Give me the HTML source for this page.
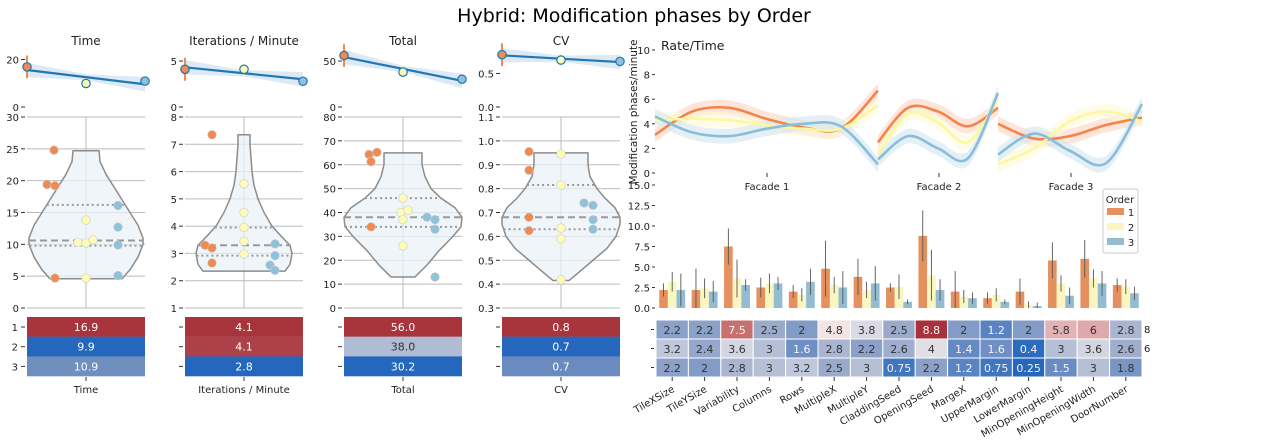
<!DOCTYPE html>
<html><head><meta charset="utf-8"><style>
html,body{margin:0;padding:0;background:#fff}
svg{display:block;font-family:"DejaVu Sans","Liberation Sans",sans-serif}
</style></head><body>
<svg id="c" width="1269" height="445" viewBox="0 0 1269 445">
<text x="634" y="22" text-anchor="middle" font-size="19">Hybrid: Modification phases by Order</text>
</svg>
<script>
// ---------- data ----------
const panelNames = ["Time","Iterations / Minute","Total","CV"];
const panelMeans1 = [16.9, 4.1, 56.0, 0.78];
const panelMeans2 = [9.9, 4.1, 38.0, 0.70];
const panelMeans3 = [10.9, 2.8, 30.2, 0.68];
const tableLabels = [["16.9","9.9","10.9"],["4.1","4.1","2.8"],["56.0","38.0","30.2"],["0.8","0.7","0.7"]];
const timePts1 = [24.8,19.4,19.2,4.7], timePts2 = [13.8,10.3,10.2,10.7,4.7], timePts3 = [16.1,12.7,9.9,5.1];
const iterPts1 = [7.35,3.3,3.2,2.65], iterPts2 = [5.55,4.5,3.95,3.45,2.98], iterPts3 = [3.35,2.92,2.57,2.38];
const totalPts1 = [64.3,65.2,61.3,34], totalPts2 = [46,40,37,41,26], totalPts3 = [38,37,33,13];
const cvPts1 = [0.955,0.877,0.68,0.624], cvPts2 = [0.945,0.815,0.635,0.59,0.418], cvPts3 = [0.74,0.73,0.67,0.63];
const quartiles = [[16.2,10.6,9.8],[3.95,3.3,2.92],[46,38,34],[0.815,0.68,0.63]];
const categories = ["TileXSize","TileYSize","Variability","Columns","Rows","MultipleX","MultipleY","CladdingSeed","OpeningSeed","MargeX","UpperMargin","LowerMargin","MinOpeningHeight","MinOpeningWidth","DoorNumber"];
const order1 = [2.2,2.2,7.5,2.5,2,4.8,3.8,2.5,8.8,2,1.2,2,5.8,6,2.8];
const order2 = [3.2,2.4,3.6,3,1.6,2.8,2.2,2.6,4,1.4,1.6,0.4,3,3.6,2.6];
const order3 = [2.2,2,2.8,3,3.2,2.5,3,0.75,2.2,1.2,0.75,0.25,1.5,3,1.8];
const err1 = [0.8,2.6,2.2,1.2,0.8,3.4,2.2,0.5,3.1,2.5,0.7,1.6,2.2,2.3,0.8];
const err2 = [1.2,1.2,2.3,1.2,0.8,1.0,1.0,1.5,3.1,0.8,0.8,0.4,1.0,1.1,0.9];
const err3 = [2.0,1.3,0.7,0.8,1.6,2.0,2.1,0.3,1.3,0.7,0.3,0.4,1.0,1.5,0.8];
const cellLabels1 = ["2.2","2.2","7.5","2.5","2","4.8","3.8","2.5","8.8","2","1.2","2","5.8","6","2.8"];
const cellLabels2 = ["3.2","2.4","3.6","3","1.6","2.8","2.2","2.6","4","1.4","1.6","0.4","3","3.6","2.6"];
const cellLabels3 = ["2.2","2","2.8","3","3.2","2.5","3","0.75","2.2","1.2","0.75","0.25","1.5","3","1.8"];
const facades = ["Facade 1","Facade 2","Facade 3"];
const rateF1o1 = [3.1,5.0,5.3,4.4,3.7,3.6,6.7], rateF1o2 = [4.3,4.4,4.3,3.9,3.6,3.6,5.5], rateF1o3 = [4.6,3.3,3.0,3.6,4.0,3.8,0.7];
const rateF2o1 = [2.5,5.3,5.0,3.8,5.3], rateF2o2 = [1.5,4.8,4.1,2.5,6.0], rateF2o3 = [1.1,3.0,2.0,1.2,6.5];
const rateF3o1 = [4.0,2.8,3.0,3.9,4.5], rateF3o2 = [0.7,2.0,4.2,5.0,4.2], rateF3o3 = [1.5,3.2,1.8,0.8,5.6];
const barTicks = ["0.0","2.5","5.0","7.5","10.0","12.5","15.0"];
const rateTicks = ["0","2","4","6","8","10"];

// ---------- helpers ----------
const svg = document.getElementById('c');
const NS = "http://www.w3.org/2000/svg";
function mk(tag, attrs, parent){const e=document.createElementNS(NS,tag);for(const k in attrs)e.setAttribute(k,attrs[k]);(parent||svg).appendChild(e);return e;}
function txt(x,y,s,size,anchor,fill,parent){const t=mk('text',{x:x,y:y,'font-size':size||10,'text-anchor':anchor||'start',fill:fill||'#222'},parent);t.textContent=s;return t;}
const C1="#f08a50",C2="#fdfbb6",C3="#8fc1da";
const B1="#e5915f",B2="#faf6c0",B3="#93bcd2";
function hex(h){return [parseInt(h.slice(1,3),16),parseInt(h.slice(3,5),16),parseInt(h.slice(5,7),16)];}
const stops=[[0.25,"#2467bd"],[1.5,"#6b8cc3"],[2.5,"#9aaacb"],[3.5,"#cfd3e0"],[4.6,"#f7eeee"],[6,"#dfa8aa"],[7.5,"#c7706f"],[8.8,"#a8323b"]];
function cmap(v){if(v<=stops[0][0])return stops[0][1];for(let i=1;i<stops.length;i++){if(v<=stops[i][0]){const t=(v-stops[i-1][0])/(stops[i][0]-stops[i-1][0]);const a=hex(stops[i-1][1]),b=hex(stops[i][1]);return `rgb(${a.map((x,j)=>Math.round(x+(b[j]-x)*t)).join(',')})`;}}return stops[stops.length-1][1];}

// ---------- left panels ----------
const px0=[27,185,344,502], pw=118;
const vMin=[0,1,0,0.3], vMax=[30,8,80,1.1], vTicks=[[0,5,10,15,20,25,30],[1,2,3,4,5,6,7,8],[0,10,20,30,40,50,60,70,80],[0.3,0.4,0.5,0.6,0.7,0.8,0.9,1.0,1.1]];
const topMax=[24,6.2,62,0.85], topTicks=[[0,20],[0,5],[0,50],[0,0.5]];
const ptsAll=[[timePts1,timePts2,timePts3],[iterPts1,iterPts2,iterPts3],[totalPts1,totalPts2,totalPts3],[cvPts1,cvPts2,cvPts3]];
const ptsDx=[[[-32,-39,-31,-31],[0,-8,0,7,0],[32,32,32,32]],[[-32,-39,-32,-32],[0,0,0,0,0],[31,31,26,31]],[[-34,-26,-32,-32],[0,-2,0,5,0],[24,32,32,32]],[[-32,-32,-32,-32],[0,0,0,0,0],[23,32,32,32]]];
const violins=[
 {v:[4.6,6,8,10,11,13,15,17,19,21,23,24.7],w:[36,44,52,57,57,52,44,36,28,20,14,13]},
 {v:[2.35,2.6,3,3.3,3.6,4,4.5,5,5.5,6,6.5,7,7.35],w:[41,46,48,46,38,28,20,14,10,8,7,6,6]},
 {v:[13,18,24,30,34,38,42,46,50,55,60,65],w:[12,24,36,50,58,59,52,38,28,22,19,19]},
 {v:[0.415,0.45,0.5,0.55,0.6,0.65,0.68,0.72,0.76,0.8,0.85,0.9,0.95],w:[8,18,32,46,55,59,59,54,44,36,29,27,27]}];
const tblColors=[["#a8343c","#2467bd","#6f8fbf"],["#a8343c","#ad4149","#2467bd"],["#a8343c","#b0bcd4","#2467bd"],["#a8343c","#2467bd","#6a8bc0"]];
const means=[panelMeans1,panelMeans2,panelMeans3];
for(let p=0;p<4;p++){
  const g=mk('g',{}); 
  
  const x0=px0[p], cx=x0+pw/2;
  const tt=txt(cx,45,panelNames[p],12,'middle','#222',g);
   
  const ty=v=>107-v/topMax[p]*(107-50);
  topTicks[p].forEach(t=>{const yy=ty(t);mk('line',{x1:x0-6,x2:x0-2,y1:yy,y2:yy,stroke:'#333'},g);txt(x0-8,yy+4,(p==3?t.toFixed(1):String(t)),10,'end','#222',g);});
  const xs=[x0,cx,x0+pw], m=[means[0][p],means[1][p],means[2][p]];
  const slope=(m[2]-m[0])/2, mm=(m[0]+m[1]+m[2])/3;
  const fit=i=>mm+slope*(i-1);
  const bw=(topMax[p]*0.09);
  let band=`M${xs[0]},${ty(fit(0)+bw*1.4)} L${xs[1]},${ty(fit(1)+bw*0.6)} L${xs[2]},${ty(fit(2)+bw*1.4)} L${xs[2]},${ty(fit(2)-bw*1.4)} L${xs[1]},${ty(fit(1)-bw*0.6)} L${xs[0]},${ty(fit(0)-bw*1.4)}Z`;
  const bd=mk('path',{d:band,fill:'#c6dbef',opacity:0.6},g);
   
  mk('line',{x1:xs[0],y1:ty(m[0]-topMax[p]*0.2),x2:xs[0],y2:ty(m[0]+topMax[p]*0.2),stroke:C1,'stroke-width':2},g);
  mk('line',{x1:xs[1],y1:ty(m[1]-topMax[p]*0.1),x2:xs[1],y2:ty(m[1]+topMax[p]*0.1),stroke:C2,'stroke-width':2},g);
  const rl=mk('line',{x1:xs[0],y1:ty(fit(0)),x2:xs[2],y2:ty(fit(2)),stroke:'#1f77b4','stroke-width':2.2},g);
   
  [C1,C2,C3].forEach((c,i)=>{const d=mk('circle',{cx:xs[i],cy:ty(m[i]),r:4.2,fill:c,stroke:'#1f77b4','stroke-width':1.2},g);
     });
  const vy=v=>308-(v-vMin[p])/(vMax[p]-vMin[p])*(308-117);
  vTicks[p].forEach(t=>{const yy=vy(t);mk('line',{x1:x0,x2:x0+pw,y1:yy,y2:yy,stroke:'#bbb','stroke-width':1},g);
    mk('line',{x1:x0-6,x2:x0-2,y1:yy,y2:yy,stroke:'#333'},g);
    txt(x0-8,yy+4,(p==3?t.toFixed(1):String(t)),10,'end','#222',g);});
  mk('line',{x1:cx,x2:cx,y1:117,y2:308,stroke:'#bbb'},g);
  const V=violins[p]; let d='';
  V.v.forEach((v,i)=>{d+=(i?'L':'M')+(cx+V.w[i])+','+vy(v)+' ';});
  for(let i=V.v.length-1;i>=0;i--)d+='L'+(cx-V.w[i])+','+vy(V.v[i])+' ';
  const vp=mk('path',{d:d+'Z',fill:'#eaf2f7','fill-opacity':0.75,stroke:'#8c8c8c','stroke-width':1.5,'stroke-linejoin':'round'},g);
   
  const q=quartiles[p];
  const hwAt=v=>{for(let i=1;i<V.v.length;i++)if(v<=V.v[i]){const t=(v-V.v[i-1])/(V.v[i]-V.v[i-1]);return V.w[i-1]+(V.w[i]-V.w[i-1])*t;}return V.w[V.w.length-1];};
  q.forEach((v,i)=>{const w=hwAt(v);mk('line',{x1:cx-w,x2:cx+w,y1:vy(v),y2:vy(v),stroke:'#999','stroke-width':2,'stroke-dasharray':i==1?'7,4':'2,3'},g);});
  ptsAll[p].forEach((arr,o)=>{arr.forEach((v,i)=>{const c=mk('circle',{cx:cx+ptsDx[p][o][i],cy:vy(v),r:4.3,fill:[C1,C2,C3][o],stroke:'#ccc','stroke-width':0.6},g);
     });});
  for(let r=0;r<3;r++){
    const y=317+r*19.7;
    const rc=mk('rect',{x:x0,y:y,width:pw,height:19.9,fill:tblColors[p][r]},g);
     
    const light=tblColors[p][r]=="#b0bcd4";
    txt(cx,y+14,tableLabels[p][r],11,'middle',light?'#333':'#fff',g);
    mk('line',{x1:x0-6,x2:x0-2,y1:y+10,y2:y+10,stroke:'#333'},g);
    if(p==0)txt(x0-9,y+14,String(r+1),10,'end','#222',g);
  }
  mk('line',{x1:cx,x2:cx,y1:377,y2:381,stroke:'#333'},g);
  txt(cx,393,panelNames[p],10,'middle','#222',g);
}

// ---------- rate/time ----------
const rg=mk('g',{});  
const ry=v=>173-v*12.3;
txt(661,50,"Rate/Time",12.5,'start','#222',rg);
rateTicks.forEach(t=>{const yy=ry(+t);mk('line',{x1:652,x2:655,y1:yy,y2:yy,stroke:'#333'},rg);txt(650,yy+4,t,10,'end','#222',rg);});
const yl=txt(0,0,"Modification phases/minute",10.5,'middle','#222',rg);
yl.setAttribute('transform','translate(637,112) rotate(-90)');
 
const fRanges=[[655,878],[878,998],[998,1142]], fCenters=[767,939,1071];
const rates=[[rateF1o1,rateF1o2,rateF1o3],[rateF2o1,rateF2o2,rateF2o3],[rateF3o1,rateF3o2,rateF3o3]];
function smooth(pts){let d=`M${pts[0][0]},${pts[0][1]}`;for(let i=0;i<pts.length-1;i++){const p0=pts[Math.max(0,i-1)],p1=pts[i],p2=pts[i+1],p3=pts[Math.min(pts.length-1,i+2)];
 d+=` C${p1[0]+(p2[0]-p0[0])/6},${p1[1]+(p2[1]-p0[1])/6} ${p2[0]-(p3[0]-p1[0])/6},${p2[1]-(p3[1]-p1[1])/6} ${p2[0]},${p2[1]}`;}return d;}
const lineC=["#f4844c","#fdf7a0","#88bedc"], bandC=["#fbd3c0","#fdfad6","#d2e6f0"];
for(let f=0;f<3;f++){
  const [a,b]=fRanges[f];
  for(let o=0;o<3;o++){
    const arr=rates[f][o]; const n=arr.length;
    const up=arr.map((v,i)=>[a+(b-a)*i/(n-1),ry(v+0.6)]), lo=arr.map((v,i)=>[a+(b-a)*i/(n-1),ry(v-0.6)]).reverse();
    const bdp=mk('path',{d:smooth(up)+' L'+smooth(lo).slice(1)+'Z',fill:bandC[o],opacity:0.6},rg);
     
  }
  for(let o=0;o<3;o++){
    const arr=rates[f][o]; const n=arr.length;
    const pts=arr.map((v,i)=>[a+(b-a)*i/(n-1),ry(v)]);
    const pl=mk('path',{d:smooth(pts),fill:'none',stroke:lineC[o],'stroke-width':2.6},rg);
     
  }
  mk('line',{x1:fCenters[f],x2:fCenters[f],y1:173,y2:177,stroke:'#333'},rg);
  txt(fCenters[f],190,facades[f],10,'middle','#222',rg);
}

// ---------- bars ----------
const bg=mk('g',{});  
const by=v=>308-v*8.2;
barTicks.forEach(t=>{const yy=by(+t);mk('line',{x1:652,x2:655,y1:yy,y2:yy,stroke:'#333'},bg);txt(650,yy+4,t,10,'end','#222',bg);});
const cx0=656, cw=(1142-656)/15;
const series=[order1,order2,order3], errs=[err1,err2,err3], bc=[B1,B2,B3];
categories.forEach((c,i)=>{
  const gx=cx0+i*cw+cw*0.1, bw=cw*0.8/3;
  for(let o=0;o<3;o++){
    const v=series[o][i], x=gx+o*bw;
    const r=mk('rect',{x:x,y:by(v),width:bw,height:by(0)-by(v),fill:bc[o]},bg);
     
    mk('line',{x1:x+bw/2,x2:x+bw/2,y1:by(v+errs[o][i]),y2:by(Math.max(0,v-errs[o][i])),stroke:'#555','stroke-width':0.9},bg);
  }
});
const lg=mk('g',{});  
mk('rect',{x:1103,y:189,width:35,height:64,fill:'#fff',stroke:'#ccc',rx:2},lg);
txt(1120,203,"Order",10,'middle','#222',lg);
["1","2","3"].forEach((s,i)=>{const e=mk('rect',{x:1107,y:208+i*15,width:17,height:7,fill:bc[i]},lg);
   
  txt(1131,216+i*15,s,10,'middle','#222',lg);});

const hg=mk('g',{});  
const cellL=[cellLabels1,cellLabels2,cellLabels3];
for(let r=0;r<3;r++){
  const y=320+r*19;
  mk('line',{x1:651,x2:654,y1:y+9.5,y2:y+9.5,stroke:'#333'},hg);
  categories.forEach((c,i)=>{
    const v=series[r][i];
    const rc=mk('rect',{x:cx0+i*cw,y:y,width:cw,height:19,fill:cmap(v),stroke:'#fff','stroke-width':1},hg);
     
    const dark=(v<1.7||v>6.5);
    txt(cx0+i*cw+cw/2,y+14,cellL[r][i],11,'middle',dark?'#f4f4f4':'#333',hg);
  });
}
txt(1144,333,"8",10,'start','#222',hg);
txt(1144,352,"6",10,'start','#222',hg);
categories.forEach((c,i)=>{
  const x=cx0+i*cw+cw/2;
  mk('line',{x1:x,x2:x,y1:377,y2:381,stroke:'#333'},hg);
  const t=txt(0,0,c,10,'end','#222',hg);
  t.setAttribute('transform',`translate(${x+3},${391}) rotate(-30)`);
   
});
</script>
</body></html>
